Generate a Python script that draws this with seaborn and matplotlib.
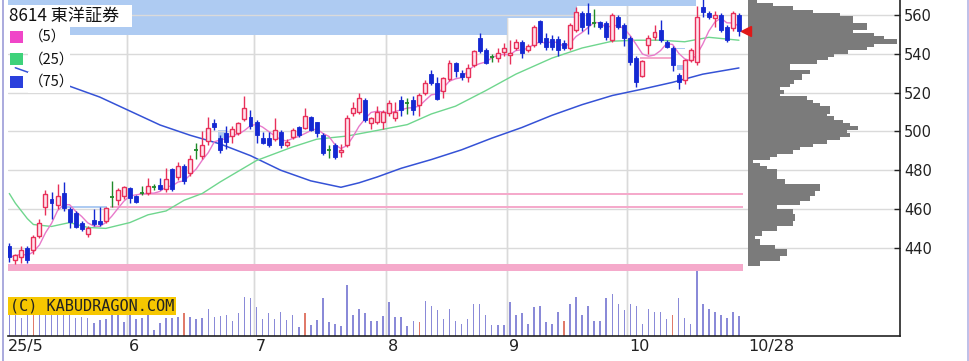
import numpy as np
import pandas as pd
import matplotlib
matplotlib.use("Agg")
import matplotlib.pyplot as plt
import matplotlib.transforms as mtransforms
from matplotlib.patches import Rectangle
from matplotlib.lines import Line2D
import seaborn as sns

# ---------------- data ----------------
title = "8614 東洋証券"
opens = [441, 433.7, 435.3, 439.9, 438.9, 446.1, 461, 465, 462, 468,
         460, 458, 452.8, 447, 454.3, 454, 453.8, 466.2, 464.6, 466.7,
         470.8, 466.7, 468.2, 468.2, 471.3, 472.4, 470.3, 480.6, 476.5, 482.2,
         478.6, 490.4, 487.3, 495, 504.3, 496.6, 499, 497.6, 499.2, 506.4,
         507.4, 504.8, 496.6, 496.6, 496, 499.7, 493, 497.1, 502.3, 501.8,
         507.4, 504.8, 498.1, 490.4, 493, 489.4, 493, 509.5, 510, 516.2,
         504.3, 504.8, 504.8, 509.5, 507, 516.2, 514.6, 516.2, 513.6, 519.8,
         529.6, 525, 520.8, 527, 535.3, 530, 528, 534.2, 548.1, 542,
         538.4, 537.8, 541, 539.4, 543, 546.1, 542, 544.5, 557, 548.1,
         547.6, 547.6, 545.6, 543, 552.3, 561, 561, 555.9, 556.4, 555.9,
         547, 559, 554.8, 548.1, 537.8, 528.6, 544.5, 548.7, 552.3, 546.1,
         543, 529, 526.5, 536.8, 535.8, 564, 561, 558.4, 560, 553.8,
         553.3, 560]
highs = [442.5, 436.8, 441, 441, 446.5, 455, 470, 469, 473, 474,
         461, 459, 454, 451, 460, 461, 461, 474.4, 471, 472,
         471.5, 467, 472, 476, 473, 476, 481, 481, 484, 483,
         488, 494, 500, 507.5, 506.5, 498, 503, 503, 505, 518,
         511, 506, 499.6, 499.6, 507, 500.7, 496, 502, 503, 512,
         508, 505, 499, 493, 494, 493.5, 508.5, 515, 520, 517,
         507.5, 513, 511, 516.2, 515, 518, 517, 518, 520, 526.5,
         531.6, 528, 528, 537, 536, 531.6, 535, 542, 550.7, 543,
         540, 543, 545.5, 547, 547.6, 547, 545, 555, 557.5, 550.7,
         549.6, 549, 547, 556, 564, 562, 566, 563, 557, 557,
         561, 560, 556, 549, 539, 537, 549.6, 554.8, 557.4, 547,
         544, 530, 537.5, 543, 564.5, 568, 562, 562, 561, 555,
         562, 561]
lows = [432.7, 431.6, 432, 432.2, 437, 445, 457, 455, 460, 459,
        450, 450, 448.5, 445.4, 451, 451, 453, 461, 462, 465,
        463, 463, 467, 467, 470, 470, 469, 469.5, 475, 473,
        477, 486, 486, 493, 500.7, 489, 491, 494, 498, 505.5,
        501, 494, 493.5, 492, 495, 491.5, 492, 496, 497, 501,
        500, 497, 488, 486.3, 486, 487, 492, 508, 509, 505,
        501, 504, 501, 508, 505.3, 508, 509, 508.5, 507.7, 519,
        524, 516, 517, 526, 528, 526.6, 525.5, 533, 540.5, 534.5,
        535.7, 536, 539, 535, 542, 538, 541, 543.5, 545, 542,
        542, 539, 542, 542, 551, 552, 550, 554, 553, 547,
        546, 553, 544, 534, 522.9, 528, 539.7, 547.1, 546, 543,
        531, 521.7, 524.5, 536, 534, 559, 558, 554, 551, 546,
        552, 549]
closes = [435.3, 436.3, 438.9, 433.7, 445.6, 452.8, 467.7, 463, 466.7, 460.5,
          453.3, 450.7, 449.7, 450.2, 452.3, 452.3, 460.5, 466.2, 469.8, 471.3,
          465.7, 463.6, 468.2, 472, 471.3, 470.3, 475.5, 470.3, 482.2, 474.4,
          485.8, 490.4, 493, 501.8, 502.3, 490.4, 494.5, 501.2, 504.3, 512,
          502.8, 498.1, 494, 493, 500.7, 493, 494.5, 500.7, 498.1, 508,
          500.7, 499.2, 488.9, 490.4, 486.8, 490.4, 506.9, 512, 517.2, 505.9,
          506.9, 510, 510, 514.6, 510, 511, 514.6, 511, 518.8, 525,
          525, 516.7, 527.5, 535.3, 531.1, 528, 532.7, 541.4, 541.4, 535.3,
          538.4, 540.4, 543, 540.4, 546.1, 540.4, 544, 553.8, 546.1, 543.5,
          543.5, 542, 543, 554.8, 561.5, 553.8, 554.8, 555.9, 553.8, 548.7,
          560, 553.8, 548.1, 535.8, 525.5, 536.3, 548.1, 551.2, 547.1, 543.5,
          534.2, 525.5, 536.8, 542, 559, 561.5, 559, 560, 552.3, 547.1,
          561, 551.5]
volumes = [25, 24, 18, 24, 26, 24, 28, 25, 24, 30,
           26, 17.7, 18.3, 17.7, 12.3, 15.7, 16.3, 20.7, 20.7, 14,
           21.3, 16.3, 17.3, 21.3, 5.7, 12.3, 17.3, 17.3, 18.3, 22.3,
           19, 16.3, 17.3, 26.3, 19, 19.7, 20.7, 15, 22.3, 39,
           37.3, 28.3, 16.3, 22.3, 16.3, 24, 15.7, 20.7, 9, 22.3,
           10.7, 15.7, 37.7, 13.3, 12, 9.3, 51, 21, 26.7, 22.7,
           15, 15, 19.3, 33.3, 18.3, 18.3, 9.3, 15, 13.3, 35,
           30, 26, 16.7, 27, 15, 12, 16.7, 31.7, 31.7, 21,
           10.3, 10.3, 10.3, 33.3, 21, 22.7, 12, 28.7, 30, 13.3,
           12, 23.7, 15, 31.7, 38.7, 21, 30, 15, 15, 37.7,
           41.7, 31.7, 25.7, 31.3, 29.7, 11.7, 26.7, 23.3, 23.3, 16.3,
           20.7, 37.3, 18, 11.7, 69, 31.3, 26.7, 23.3, 20.7, 18,
           23.3, 19.7]
volume_red_days = [4, 29, 49, 68, 92, 110]

ma25_idx = [0, 1, 3, 4, 7, 10, 13, 16, 20, 23, 26, 29, 32, 35, 38, 41, 44, 47,
            51, 56, 61, 66, 70, 74, 79, 84, 90, 95, 100, 104, 108, 112, 116, 121]
ma25_val = [468, 463, 455, 452, 451, 453, 450.5, 450, 453, 457, 459, 464.5, 468,
            474, 479.5, 485, 488.5, 492, 496, 497.6, 500.5, 503.5, 509, 513,
            521, 529.5, 537.8, 543, 546.5, 547, 547, 546.2, 548.5, 547]
ma75_idx = [1, 3, 5, 10, 15, 20, 25, 30, 35, 40, 45, 50, 55, 58, 61, 65, 70, 75,
            80, 85, 90, 95, 100, 105, 110, 115, 121]
ma75_val = [532.8, 530.6, 528, 523.3, 517.7, 510.5, 503.3, 498, 493.5, 487.5, 480,
            474.5, 471.2, 473.5, 476.5, 481, 485.5, 490.5, 496.5, 502, 508.3,
            513.8, 518.5, 521.8, 525.3, 529.5, 532.7]

# price-volume profile (price level, relative volume)
profile_price = [566.9, 565.2, 563.5, 561.7, 560.0, 558.3, 556.6, 554.8, 553.1, 551.4,
                 549.7, 548.0, 546.3, 544.5, 542.8, 541.1, 539.4, 537.7, 535.9, 534.2,
                 532.5, 530.8, 529.1, 527.4, 525.6, 523.9, 522.2, 520.5, 518.8, 517.1,
                 515.3, 513.6, 511.9, 510.2, 508.5, 506.8, 505.0, 503.3, 501.6, 499.9,
                 498.2, 496.5, 494.7, 493.0, 491.3, 489.6, 487.9, 486.2, 484.4, 482.7,
                 481.0, 479.3, 477.6,
                 476.2, 473.7, 471.1, 468.5, 465.9, 463.4, 460.8, 458.2, 455.6, 453.0,
                 450.5, 447.9, 445.3, 442.7, 440.1, 437.6, 435.0, 432.4]
profile_volume = [9, 25.6, 45, 65.6, 92, 105, 105, 119, 119, 105,
                  126, 136, 149, 126, 119, 100, 86, 80, 69, 42,
                  42, 62, 54, 54, 46, 42, 32, 36, 32, 59,
                  65, 72, 82, 82, 79, 86, 95, 102, 110, 99,
                  102, 92, 79, 65, 52, 45, 29, 22, 5, 12,
                  19, 29, 29,
                  29, 37, 72, 67, 62, 52, 29, 45, 47, 45,
                  29, 14, 7, 12, 27, 39, 32, 12]

# unfilled price gaps: (start day, end day, low, high)
gaps_down = [(-0.3, 82.6, 549.7, 570), (82.6, 94.2, 558.5, 570), (94.2, 113.8, 564.8, 570),
             (9.6, 16.2, 460.6, 461.4), (34.6, 36.1, 496.6, 500.7),
             (110.0, 112.1, 542.3, 543.2), (110.7, 111.7, 531.6, 534.2)]
gaps_up = [(-0.3, 121.6, 428.2, 431.5), (16.7, 121.6, 460.5, 461.3),
           (21.5, 121.6, 467.3, 468.1), (104.6, 110.1, 537.4, 538.2)]

month_start = [0, 20, 41, 63, 83, 103]
month_labels = ["25/5", "6", "7", "8", "9", "10"]
last_label = "10/28"
yticks = [440, 460, 480, 500, 520, 540, 560]
legend_labels = ["（5）", "（25）", "（75）"]
copyright_text = "(C) KABUDRAGON.COM"

# ---------------- styling ----------------
sns.set_theme(style="white")
plt.rcParams['font.family'] = ['Noto Sans CJK JP', 'DejaVu Sans']

W, H = 970, 361
fig = plt.figure(figsize=(W / 100, H / 100), dpi=100, facecolor='white')

AX_L, AX_R, AX_T, AX_B = 8, 900, 0, 335.5
X0, DX = 9.3, 6.03          # pixel of day 0, pixels per day
Y0, DY = 15.0, 1.94          # pixel of price 560, pixels per yen


def px2day(px):
    return (px - X0) / DX


def py2price(py):
    return 560 - (py - Y0) / DY


rect = [AX_L / W, 1 - AX_B / H, (AX_R - AX_L) / W, (AX_B - AX_T) / H]
vax = fig.add_axes(rect, zorder=1)
ax = fig.add_axes(rect, zorder=2)
for a in (ax, vax):
    a.set_xlim(px2day(AX_L), px2day(AX_R))
    a.patch.set_visible(False)
ax.set_ylim(py2price(AX_B), py2price(AX_T))
vax.set_ylim(0, AX_B - AX_T)
vax.axis('off')

n = len(closes)
idx = np.arange(n)
o = np.array(opens); h = np.array(highs); l = np.array(lows); c = np.array(closes)

UP_EDGE, UP_FACE = '#e8305a', '#ffe2ec'
DOWN = '#1428d2'
DOJI = '#1f8a2a'

# grid
ax.set_yticks(yticks)
ax.yaxis.grid(True, color='#dadada', lw=1, zorder=0)
ax.xaxis.grid(False)
for ms in month_start[1:]:
    ax.axvline(ms - 0.5, color='#dadada', lw=1, zorder=0)
    vax.axvline(ms - 0.5, color='#dadada', lw=1, zorder=0)

# gaps
for s, e, lo, hi in gaps_down:
    ax.add_patch(Rectangle((s, lo), e - s, hi - lo, facecolor='#aecbf2', edgecolor='none', zorder=0.5))
for s, e, lo, hi in gaps_up:
    ax.add_patch(Rectangle((s, lo), e - s, hi - lo, facecolor='#f5aacb', edgecolor='none', zorder=0.6))

# volume profile
pp = np.array(profile_price)
ph = np.abs(np.gradient(pp)) * 1.25
ax.barh(pp, np.array(profile_volume) / DX, left=px2day(747.7), height=ph,
        color='#7b7b7b', edgecolor='none', zorder=1)

# volume bars
vcol = ['#e07a6a' if i in volume_red_days else '#8a8ad8' for i in idx]
vax.bar(idx, volumes, width=0.26, color=vcol, edgecolor='none', zorder=2)

# moving averages
ma5 = pd.Series(closes).rolling(5, min_periods=1).mean()
sns.lineplot(x=ma75_idx, y=ma75_val, ax=ax, color='#3552d6', lw=1.1, zorder=2.5)
sns.lineplot(x=ma25_idx, y=ma25_val, ax=ax, color='#6fd68e', lw=1.0, zorder=2.5)
sns.lineplot(x=idx, y=ma5, ax=ax, color='#e87acb', lw=1.0, zorder=2.6)

# candles
up = c > o
down = c < o
doji = c == o
wick_col = np.where(up, UP_EDGE, np.where(down, DOWN, DOJI))
ax.vlines(idx, l, h, colors=list(wick_col), lw=1.0, zorder=3)
ax.bar(idx[up], (c - o)[up], bottom=o[up], width=0.66, facecolor=UP_FACE,
       edgecolor=UP_EDGE, lw=1.0, zorder=4)
ax.bar(idx[down], (o - c)[down], bottom=c[down], width=0.66, facecolor=DOWN,
       edgecolor=DOWN, lw=0.6, zorder=4)
ax.hlines(c[doji], idx[doji] - 0.35, idx[doji] + 0.35, colors=DOJI, lw=1.3, zorder=4)

# last price marker
ax.plot([n - 1 + 1.12], [closes[-1]], marker='<', color='#e01818', ms=7, zorder=5, clip_on=False)

# axes / spines
for side in ('top', 'left'):
    ax.spines[side].set_visible(False)
ax.spines['right'].set_color('#222222')
ax.spines['bottom'].set_color('#222222')
ax.spines['right'].set_linewidth(1.2)
ax.spines['bottom'].set_linewidth(1.2)
ax.yaxis.tick_right()
ax.tick_params(axis='y', direction='in', length=4, width=1, color='#222222',
               labelsize=10.5, pad=3, labelcolor='#222222', right=True, left=False)
for t in ax.get_yticklabels():
    t.set_fontfamily('DejaVu Sans')
ax.set_xticks([])
ax.set_xlabel('')
ax.set_ylabel('')

trans = mtransforms.blended_transform_factory(ax.transData, ax.transAxes)
for ms, lab in zip(month_start, month_labels):
    xpos = px2day(AX_L) if ms == 0 else ms - 0.5 + 2.2 / DX
    ax.text(xpos, -0.034, lab, transform=trans, ha='left', va='center',
            fontsize=11.5, color='#222222', family='DejaVu Sans', clip_on=False)
ax.text(px2day(748), -0.034, last_label, transform=trans, ha='left', va='center',
        fontsize=11.5, color='#222222', family='DejaVu Sans', clip_on=False)

# figure frame lines
fig.add_artist(Line2D([3 / W, 3 / W], [0, 1], color='#9c9cd8', lw=1.2))
fig.add_artist(Line2D([968 / W, 968 / W], [0, 1], color='#b4b4e4', lw=1.2))


def fx(px):
    return px / W


def fy(py):
    return 1 - py / H


# title box
fig.add_artist(Rectangle((fx(7), fy(27)), (132 - 7) / W, 22 / H, transform=fig.transFigure,
                         facecolor='white', edgecolor='none', zorder=10))
fig.text(fx(9), fy(15.5), title, ha='left', va='center', fontsize=12.3,
         color='#111111', zorder=11, family=['Noto Sans CJK JP', 'DejaVu Sans'])

# legend
fig.add_artist(Rectangle((fx(7), fy(45)), 60 / W, 18 / H, transform=fig.transFigure,
                         facecolor='white', edgecolor='none', zorder=10))
leg_cols = ['#f046c8', '#3ed27a', '#2a40dc']
for k, (lab, col) in enumerate(zip(legend_labels, leg_cols)):
    yc = 37 + k * 22.3
    fig.add_artist(Rectangle((fx(28), fy(yc + 11)), 42 / W, 21 / H, transform=fig.transFigure,
                             facecolor='white', edgecolor='none', zorder=10))
    fig.add_artist(Rectangle((fx(10), fy(yc + 6)), 12.5 / W, 12 / H, transform=fig.transFigure,
                             facecolor=col, edgecolor='none', zorder=11))
    fig.text(fx(29), fy(yc), lab, ha='left', va='center', fontsize=10.5,
             color='#111111', zorder=11, family=['Noto Sans CJK JP', 'DejaVu Sans'])

# copyright label
fig.text(fx(10), fy(306), copyright_text, ha='left', va='center', fontsize=11,
         family='DejaVu Sans Mono', color='#222222', zorder=12,
         bbox=dict(boxstyle='square,pad=0.12', facecolor='#f6c700', edgecolor='none'))

fig.savefig('out.png', dpi=100, facecolor='white')
